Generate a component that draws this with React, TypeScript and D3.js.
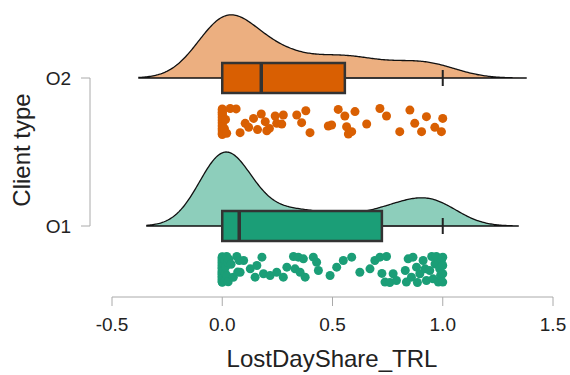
import React from 'react';
import * as d3 from 'd3';

// categories, top to bottom
const groups = ['O2', 'O1'];
const xTicks = [-0.5, 0, 0.5, 1, 1.5];

// O2 observations and their vertical jitter (-1..1)
const o2Values = [
  0, 0, 0, 0, 0, 0, 0, 0, 0, 0, 0, 0, 0, 0, 0, 0, 0, 0, 0, 0,
  0.01, 0.015, 0.02, 0.036, 0.063, 0.081, 0.104, 0.12, 0.142, 0.16, 0.177,
  0.195, 0.202, 0.214, 0.24, 0.247, 0.27, 0.277, 0.338, 0.36, 0.379, 0.398, 0.481, 0.496, 0.526, 0.556,
  0.564, 0.572, 0.587, 0.602, 0.655, 0.715, 0.745, 0.805, 0.851, 0.873, 0.904, 0.926, 0.964, 0.994, 1.0,
];
const o2Jitter = [
  -0.97, -0.81, -0.66, -0.9, -0.42, -0.2, -0.55, 0.05, 0.31, -0.08, 0.52, 0.74, 0.18, 0.95, 0.63, 0.86, -0.33, 0.41, 1.0, -0.71,
  0.55, -0.15, 0.9, -1.0, -0.97, 0.86, 0.14, 0.45, -0.24, 0.62, -0.58,
  0.01, 0.71, 0.53, -0.42, 0.14, 0.2, -0.5, -0.5, 0.09, -0.83, 0.86, 0.35, 0.27, -0.93, -0.42,
  0.4, 0.96, 0.78, -0.76, 0.19, -1.0, -0.42, 0.78, -0.88, 0.14, 0.78, -0.37, 0.45, 0.78, -0.24,
];

// O1 observations and their vertical jitter (-1..1)
const o1Values = [
  0, 0, 0, 0, 0, 0, 0, 0, 0, 0, 0, 0, 0, 0, 0, 0, 0, 0, 0, 0,
  0, 0, 0, 0, 0, 0, 0, 0, 0, 0, 0, 0, 0, 0, 0, 0, 0, 0, 0, 0,
  0.003, 0.005, 0.006, 0.008, 0.01, 0.012, 0.014, 0.015, 0.018, 0.02, 0.022, 0.025, 0.027, 0.03,
  0.04, 0.05, 0.066, 0.07, 0.077,
  0.081, 0.097, 0.127, 0.149, 0.157, 0.18, 0.187, 0.217, 0.247, 0.277, 0.293, 0.323, 0.33, 0.345, 0.353,
  0.368, 0.376, 0.413, 0.428, 0.436, 0.489, 0.519, 0.549, 0.587, 0.624, 0.67, 0.692, 0.715, 0.724,
  0.738, 0.745, 0.76, 0.775, 0.79, 0.835, 0.843, 0.858, 0.865, 0.881, 0.885, 0.896, 0.911, 0.92, 0.926,
  0.941, 0.95, 0.956, 0.965, 0.971, 0.98, 0.986, 0.99, 0.994, 1.0, 1.0, 1.0, 1.0, 0.83,
];
const o1Jitter = [
  -0.98, -0.72, -0.45, -0.21, 0.04, 0.28, 0.55, 0.81, 0.99, -0.88, -0.6, -0.33, -0.1, 0.15, 0.4, 0.66, 0.92, -0.94, -0.5, 0.22,
  0.71, -0.15, 0.47, -0.79, 0.09, 0.6, -0.39, 0.86, -0.65, 0.33, -0.03, 0.77, -0.27, 0.51, -0.84, 0.19, 0.95, -0.56, 0.37, -0.12,
  0.62, -0.9, 0.1, -0.4, 0.85, -0.7, 0.3, -0.2, 0.7, -1.0, 0.5, -0.55, 0.95, -0.8,
  -0.4, 0.6, -1.0, 0.2, -0.69,
  0.21, -0.69, -0.05, 0.59, -0.31, -0.95, 0.33, 0.46, 0.21, 0.59, -0.18, -1.0, -0.05, -0.95, 0.21,
  -0.82, 0.59, -0.95, -0.56, 0.08, 0.46, -0.18, -0.69, -0.95, 0.21, -0.05, -0.69, -0.95, 0.3,
  0.97, -1.0, 1.0, 0.33, 0.85, 0.97, -0.82, 0.59, -0.95, -0.18, 1.0, 0.33, -0.69, -0.05, 0.85,
  0.08, -1.0, 0.72, -0.43, -1.0, 0.97, -0.05, 0.46, -0.69, 0.33, 0.97, -0.31, -0.95, 0.08,
];

const colors: Record<string, string> = { O2: '#d95f02', O1: '#1b9e77' };
const bandwidth: Record<string, number> = { O2: 0.126, O1: 0.114 };
const series: Record<string, { values: number[]; jitter: number[] }> = {
  O2: { values: o2Values, jitter: o2Jitter },
  O1: { values: o1Values, jitter: o1Jitter },
};

const font = '"Liberation Sans", Arial, sans-serif';

function kde(values: number[], bw: number) {
  const lo = d3.min(values)! - 3 * bw;
  const hi = d3.max(values)! + 3 * bw;
  const n = 300;
  const out: [number, number][] = [];
  for (let i = 0; i <= n; i++) {
    const t = lo + ((hi - lo) * i) / n;
    const s = d3.sum(values, (v) => Math.exp(-0.5 * ((t - v) / bw) ** 2));
    out.push([t, s / (values.length * bw * Math.sqrt(2 * Math.PI))]);
  }
  return out;
}

export default function App() {
  const x = d3.scaleLinear().domain([-0.5, 1.5]).range([112, 553]);
  const y = d3.scalePoint<string>().domain(groups).range([78, 226]);

  const dens: Record<string, [number, number][]> = {};
  groups.forEach((g) => (dens[g] = kde(series[g].values, bandwidth[g])));
  const maxD = d3.max(groups, (g) => d3.max(dens[g], (d) => d[1]))!;
  const h = d3.scaleLinear().domain([0, maxD]).range([0, 74]);

  const axisY = 297;
  const fmt = (t: number) => t.toFixed(1); // plain hyphen minus, like the original

  return (
    <svg width={570} height={375} style={{ position: 'absolute', left: 0, top: 0, background: '#fff' }} fontFamily={font}>
      {groups.map((g) => {
        const base = y(g)!;
        const vals = [...series[g].values].sort(d3.ascending);
        const q1 = d3.quantile(vals, 0.25)!;
        const med = d3.quantile(vals, 0.5)!;
        const q3 = d3.quantile(vals, 0.75)!;
        const iqr = q3 - q1;
        const hiW = d3.max(vals.filter((v) => v <= q3 + 1.5 * iqr))!;
        const loW = d3.min(vals.filter((v) => v >= q1 - 1.5 * iqr))!;
        const area = d3
          .area<[number, number]>()
          .x((d) => x(d[0]))
          .y0(base)
          .y1((d) => base - h(d[1]));
        return (
          <g key={g}>
            <path d={area(dens[g])!} fill={colors[g]} fillOpacity={0.5} stroke="#111" strokeWidth={1.3} />
            <line x1={x(q3)} x2={x(hiW)} y1={base} y2={base} stroke="#333" strokeWidth={1.6} />
            <line x1={x(hiW)} x2={x(hiW)} y1={base - 8} y2={base + 8} stroke="#222" strokeWidth={2} />
            <line x1={x(loW)} x2={x(q1)} y1={base} y2={base} stroke="#333" strokeWidth={1.6} />
            <rect x={x(q1)} y={base - 15} width={x(q3) - x(q1)} height={30} fill={colors[g]} stroke="#333" strokeWidth={2.5} />
            <line x1={x(med)} x2={x(med)} y1={base - 15} y2={base + 15} stroke="#333" strokeWidth={3.5} />
            {series[g].values.map((v, i) => (
              <circle key={i} cx={x(v)} cy={base + 43.5 + series[g].jitter[i] * 13} r={4.5} fill={colors[g]} />
            ))}
          </g>
        );
      })}

      {/* x axis */}
      <line x1={x(-0.5)} x2={x(1.5)} y1={axisY} y2={axisY} stroke="#aaa" strokeWidth={1} />
      {xTicks.map((t) => (
        <g key={t}>
          <line x1={x(t)} x2={x(t)} y1={axisY} y2={axisY + 9} stroke="#aaa" strokeWidth={1} />
          <text x={x(t)} y={331} textAnchor="middle" fontSize={19} fill="#222">
            {fmt(t)}
          </text>
        </g>
      ))}
      <text x={332} y={367} textAnchor="middle" fontSize={24} fill="#222">
        LostDayShare_TRL
      </text>

      {/* y axis */}
      <line x1={90} x2={90} y1={y('O2')!} y2={y('O1')!} stroke="#aaa" strokeWidth={1} />
      {groups.map((g) => (
        <g key={g}>
          <line x1={81} x2={90} y1={y(g)!} y2={y(g)!} stroke="#aaa" strokeWidth={1} />
          <text x={71} y={y(g)!} dy="0.36em" textAnchor="end" fontSize={19} fill="#222">
            {g}
          </text>
        </g>
      ))}
      <text transform="translate(30,150) rotate(-90)" textAnchor="middle" fontSize={24} fill="#222">
        Client type
      </text>
    </svg>
  );
}
